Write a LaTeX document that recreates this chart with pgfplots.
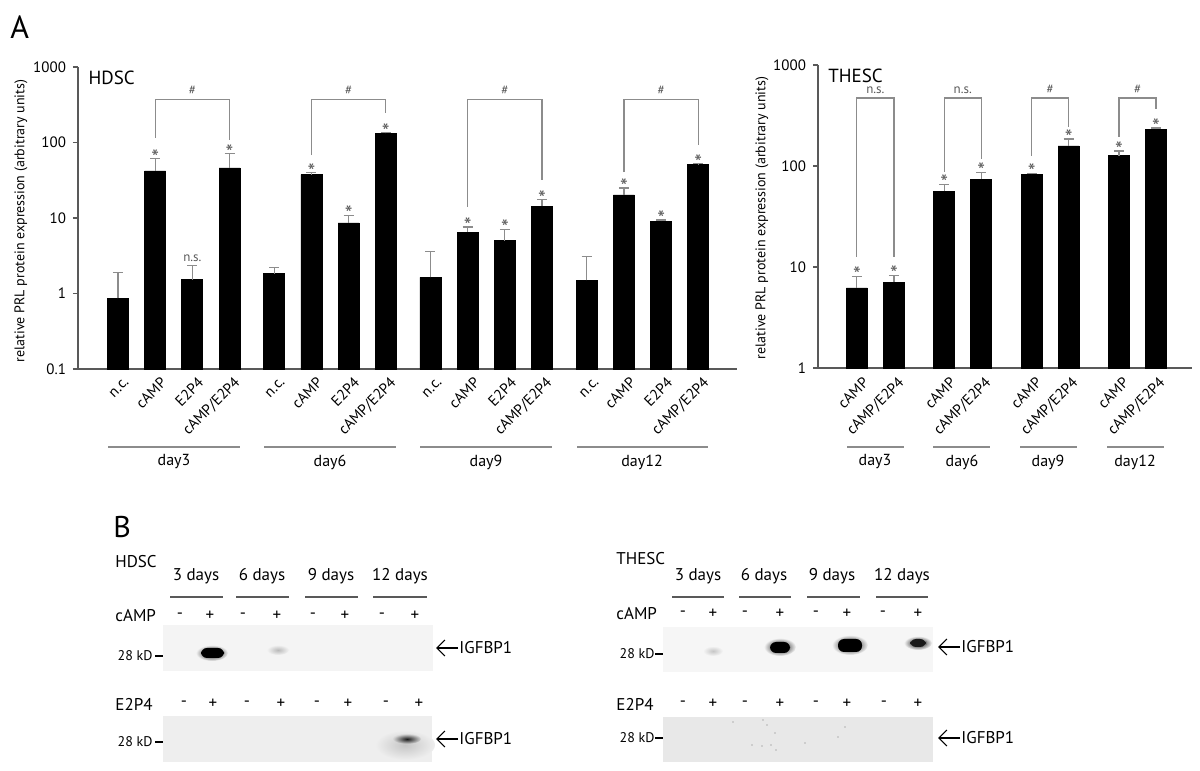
\documentclass[border=0pt]{standalone}
\usepackage{fontspec}
\setmainfont{PT Sans}
\usepackage{pgfplots}
\usepackage{pgfplotstable}
\pgfplotsset{compat=1.18}
\usetikzlibrary{arrows.meta}
\definecolor{axgray}{gray}{0.35}
\definecolor{brgray}{gray}{0.55}

% HDSC: x position, mean, upper error
\pgfplotstableread{
x y e
0 0.86 1.04
1 42 19
2 1.53 0.82
3 46 25
4.2 1.84 0.36
5.2 37.5 2.5
6.2 8.6 2.3
7.2 132 4
8.4 1.63 1.97
9.4 6.5 1.1
10.4 5.0 2.1
11.4 14.4 3.1
12.6 1.49 1.61
13.6 20.2 4.8
14.6 9.1 0.3
15.6 51 1.5
}\hdsc

% THESC
\pgfplotstableread{
x y e
0 6.2 1.9
1 7.1 1.2
2.36 56.5 9.5
3.36 74 13
4.72 83 2
5.72 158 27
7.08 126 15
8.08 232 6
}\thesc

\newcommand{\sigstar}[2]{\node[font=\fontsize{11}{11}\selectfont, text=axgray, anchor=south, inner sep=0pt, yshift=-3.5pt] at (axis cs:#1,#2) {*};}
\newcommand{\brk}[6]{\draw[brgray, line width=0.6pt] (axis cs:#1,#3) |- (axis cs:#2,#5) -- (axis cs:#2,#4);
  \node[font=\fontsize{6.5}{6.5}\selectfont, text=axgray, anchor=south, inner sep=2pt] at (axis cs:{(#1+#2)/2},#5) {#6};}
% rotated category label; #1 = bar centre in pixels
\newcommand{\xlab}[2]{\node[font=\fontsize{7.5}{8}\selectfont, inner sep=0pt, rotate=45, anchor=east] at (#1+9,380) {#2};}

\begin{document}
\begin{tikzpicture}
\path[use as bounding box] (0,0) rectangle (600pt,385.5pt);

% ---------------- HDSC ----------------
\begin{axis}[at={(39pt,201pt)}, anchor=south west, width=329.5pt, height=151pt,
  scale only axis, ymode=log, log origin=infty,
  axis lines*=left,
  axis line style={axgray, line width=0.6pt},
  tick align=outside, major tick length=2.5pt, minor tick length=0pt,
  tick style={axgray, line width=0.6pt},
  yticklabel style={font=\fontsize{7.5}{8}\selectfont},
  clip=false, ybar, bar width=10.5pt,
  ymin=0.1, ymax=1000, xmin=-1.075, xmax=16.64,
  ytick={0.1,1,10,100,1000}, yticklabels={0.1,1,10,100,1000},
  xtick=\empty,
]
\addplot[fill=black, draw=black,
    error bars/y dir=plus, error bars/y explicit,
    error bars/error bar style={brgray, line width=0.6pt},
    error bars/error mark options={brgray, rotate=90, mark size=2.5pt, line width=0.6pt}]
  table[x=x, y=y, y error=e]{\hdsc};
\sigstar{1}{61}\sigstar{3}{71}
\node[font=\fontsize{6.5}{6.5}\selectfont, text=axgray, anchor=south, inner sep=1.5pt] at (axis cs:2,2.35) {n.s.};
\sigstar{5.2}{40}\sigstar{6.2}{10.9}\sigstar{7.2}{136}
\sigstar{9.4}{7.6}\sigstar{10.4}{7.1}\sigstar{11.4}{17.5}
\sigstar{13.6}{25}\sigstar{14.6}{9.4}\sigstar{15.6}{52.5}
\brk{1}{3}{115}{108}{375}{\#}
\brk{5.2}{7.2}{68}{245}{375}{\#}
\brk{9.4}{11.4}{14}{32}{375}{\#}
\brk{13.6}{15.6}{40.6}{92.6}{375}{\#}
\node[font=\fontsize{9.5}{10}\selectfont, anchor=west, inner sep=0pt] at (axis cs:-0.8,720) {HDSC};
\end{axis}

% ---------------- THESC ----------------
\begin{axis}[at={(409pt,201.5pt)}, anchor=south west, width=187pt, height=151.5pt,
  scale only axis, ymode=log, log origin=infty,
  axis lines*=left,
  axis line style={axgray, line width=0.6pt},
  tick align=outside, major tick length=2.5pt, minor tick length=0pt,
  tick style={axgray, line width=0.6pt},
  yticklabel style={font=\fontsize{7.5}{8}\selectfont},
  clip=false, ybar, bar width=10.5pt,
  ymin=1, ymax=1000, xmin=-1.05, xmax=9.05,
  ytick={1,10,100,1000}, yticklabels={1,10,100,1000},
  xtick=\empty,
]
\addplot[fill=black, draw=black,
    error bars/y dir=plus, error bars/y explicit,
    error bars/error bar style={brgray, line width=0.6pt},
    error bars/error mark options={brgray, rotate=90, mark size=2.5pt, line width=0.6pt}]
  table[x=x, y=y, y error=e]{\thesc};
\sigstar{0}{8.1}\sigstar{1}{8.3}\sigstar{2.36}{66}\sigstar{3.36}{87}
\sigstar{4.72}{85}\sigstar{5.72}{185}\sigstar{7.08}{141}\sigstar{8.08}{238}
\brk{0}{1}{12.6}{12.6}{471}{n.s.}
\brk{2.36}{3.36}{87.5}{117}{471}{n.s.}
\brk{4.72}{5.72}{126}{243}{471}{\#}
\brk{7.08}{8.08}{194}{366}{471}{\#}
\node[font=\fontsize{9.5}{10}\selectfont, anchor=west, inner sep=0pt] at (axis cs:-0.78,790) {THESC};
\end{axis}

\begin{scope}[shift={(0,385.5pt)}, x=0.5pt, y=-0.5pt]
\node[font=\fontsize{16}{16}\selectfont, anchor=west, inner sep=0pt] at (10,27) {A};
% category labels (rotated 45 degrees), placed under each bar
\xlab{118}{n.c.}\xlab{155}{cAMP}\xlab{192}{E2P4}\xlab{229}{cAMP/E2P4}
\xlab{274}{n.c.}\xlab{311}{cAMP}\xlab{348}{E2P4}\xlab{385}{cAMP/E2P4}
\xlab{431}{n.c.}\xlab{468}{cAMP}\xlab{505}{E2P4}\xlab{541}{cAMP/E2P4}
\xlab{588}{n.c.}\xlab{624}{cAMP}\xlab{661}{E2P4}\xlab{698}{cAMP/E2P4}
\xlab{857}{cAMP}\xlab{893}{cAMP/E2P4}\xlab{944}{cAMP}\xlab{980}{cAMP/E2P4}
\xlab{1030}{cAMP}\xlab{1067}{cAMP/E2P4}\xlab{1117}{cAMP}\xlab{1154}{cAMP/E2P4}
\node[rotate=90, font=\fontsize{7}{8}\selectfont] at (21,221) {relative PRL protein expression (arbitrary units)};
\foreach \a/\b/\c/\t in {108/240/174/day3, 264/396/330/day6, 420/552/486/day9, 577/708/642/day12}{
  \draw[brgray, line width=0.7pt] (\a,447) -- (\b,447);
  \node[font=\fontsize{8}{9}\selectfont] at (\c,462) {\t};
}
\node[rotate=90, font=\fontsize{7}{8}\selectfont] at (762,218) {relative PRL protein expression (arbitrary units)};
\foreach \a/\b/\c/\t in {847/904/875/day3, 933/990/962/day6, 1020/1077/1048/day9, 1107/1164/1135/day12}{
  \draw[brgray, line width=0.7pt] (\a,447) -- (\b,447);
  \node[font=\fontsize{8}{9}\selectfont] at (\c,462) {\t};
}

% ---------------- Panel B ----------------
\node[font=\fontsize{15}{15}\selectfont, anchor=west, inner sep=0pt] at (113,527) {B};
\tikzset{bl/.style={font=\fontsize{8.5}{9}\selectfont, inner sep=0pt},
         kd/.style={font=\fontsize{7}{8}\selectfont, inner sep=0pt, anchor=east}}
% HDSC
\node[bl, anchor=west] at (115,562) {HDSC};
\node[bl, anchor=west] at (115,616) {cAMP};
\node[bl, anchor=west] at (115,704) {E2P4};
\foreach \c/\t in {196/3 days, 262/6 days, 331/9 days, 400/12 days}{\node[bl] at (\c,576) {\t};}
\foreach \a/\b in {170/223, 236/289, 305/358, 373/427}{\draw[axgray, line width=0.8pt] (\a,597) -- (\b,597);}
\foreach \x/\s in {180/-,210/+,243/-,277/+,313/-,345/+,382/-,415/+}{\node[bl] at (\x,616) {\s};}
\foreach \x/\s in {184/-,213/+,247/-,281/+,317/-,348/+,386/-,419/+}{\node[bl] at (\x,704) {\s};}
\fill[gray!9] (163,625) rectangle (433,671);
\shade[inner color=black, outer color=gray!9] (212,653) ellipse (16 and 8);
\fill[black, rounded corners=3pt] (201,648) rectangle (224,658);
\shade[inner color=gray!55, outer color=gray!9] (278,650) ellipse (11 and 5);
\fill[gray!13] (163,716) rectangle (432,762);
\shade[inner color=gray!45, outer color=gray!13] (405,745) ellipse (30 and 15);
\shade[inner color=black!90, outer color=gray!30] (407,739) ellipse (14 and 5);
\node[kd] at (153,656) {28 kD}; \draw[black, line width=0.6pt] (155,656) -- (163,656);
\node[kd] at (153,742) {28 kD}; \draw[black, line width=0.6pt] (155,742) -- (163,742);
\draw[-{Straight Barb[length=4pt]}, line width=0.6pt] (458,648) -- (436,648);
\node[bl, anchor=west] at (459,648) {IGFBP1};
\draw[-{Straight Barb[length=4pt]}, line width=0.6pt] (458,739) -- (436,739);
\node[bl, anchor=west] at (459,739) {IGFBP1};
% THESC
\node[bl, anchor=west] at (616,559) {THESC};
\node[bl, anchor=west] at (616,614) {cAMP};
\node[bl, anchor=west] at (616,704) {E2P4};
\foreach \c/\t in {698/3 days, 764/6 days, 832/9 days, 902/12 days}{\node[bl] at (\c,576) {\t};}
\foreach \a/\b in {672/724, 739/791, 807/860, 876/928}{\draw[axgray, line width=0.8pt] (\a,597) -- (\b,597);}
\foreach \x/\s in {683/-,713/+,745/-,780/+,816/-,847/+,883/-,918/+}{\node[bl] at (\x,614) {\s};}
\foreach \x/\s in {683/-,713/+,745/-,780/+,816/-,847/+,884/-,918/+}{\node[bl] at (\x,704) {\s};}
\fill[gray!7] (663,627) rectangle (933,672);
\shade[inner color=gray!45, outer color=gray!7] (713,651) ellipse (10 and 5);
\shade[inner color=black, outer color=gray!7] (780,647) ellipse (16 and 9);
\fill[black, rounded corners=3pt] (770,642) rectangle (790,653);
\shade[inner color=black, outer color=gray!7] (850,645) ellipse (18 and 10);
\fill[black, rounded corners=3pt] (838,639) rectangle (862,652);
\shade[inner color=black, outer color=gray!7] (918,643) ellipse (14 and 7);
\fill[black!90, rounded corners=3pt] (910,639) rectangle (926,647);
\fill[gray!18] (663,717) rectangle (933,762);
\foreach \x/\y in {733/722,763/720,767/725,775/733,771/745,752/745,762/746,776/750,805/743,838/737,845/727}{\fill[gray!60] (\x,\y) circle (0.9);}
\node[kd] at (655,654) {28 kD}; \draw[black, line width=0.6pt] (655,654) -- (663,654);
\node[kd] at (655,738) {28 kD}; \draw[black, line width=0.6pt] (655,738) -- (663,738);
\draw[-{Straight Barb[length=4pt]}, line width=0.6pt] (960,647) -- (938,647);
\node[bl, anchor=west] at (961,647) {IGFBP1};
\draw[-{Straight Barb[length=4pt]}, line width=0.6pt] (960,738) -- (938,738);
\node[bl, anchor=west] at (961,738) {IGFBP1};
\end{scope}
\end{tikzpicture}
\end{document}
